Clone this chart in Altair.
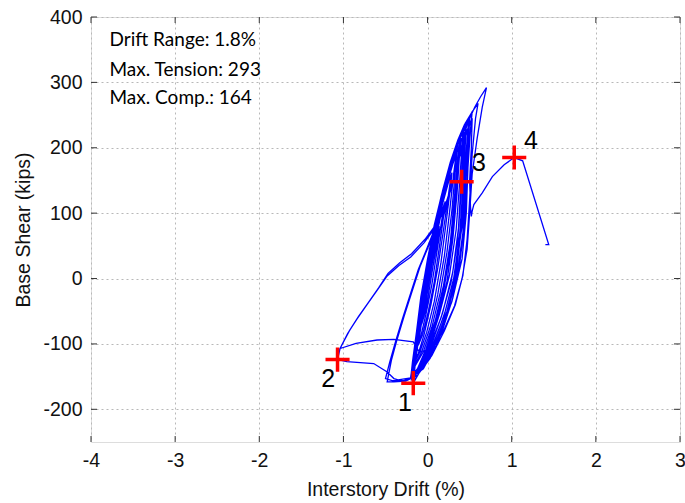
import altair as alt
import pandas as pd

# ---- hysteresis path, cycle by cycle (drift %, base shear kips)
CYCLE_1A = [(0, 0), (0.04, 30), (0.09, 60), (0.13, 78), (0.1, 55), (0.05, 20), (0.0, -20), (-0.04, -50), (-0.07, -68)]
CYCLE_1B = [(-0.04, -42), (0.0, -5), (0.05, 35), (0.1, 65), (0.14, 80), (0.11, 52), (0.06, 15), (0.01, -25),
            (-0.03, -52), (-0.07, -70)]
CYCLE_2A = [(-0.04, -40), (0.01, 0), (0.07, 45), (0.14, 90), (0.2, 115), (0.17, 90), (0.11, 40), (0.05, -10),
            (-0.02, -55), (-0.08, -88), (-0.11, -100)]
CYCLE_2B = [(-0.08, -75), (-0.03, -32), (0.03, 12), (0.09, 55), (0.16, 98), (0.21, 118), (0.19, 95), (0.14, 48),
            (0.08, -5), (0.01, -50), (-0.06, -86), (-0.11, -102)]
CYCLE_3A = [(-0.08, -70), (-0.03, -25), (0.03, 20), (0.1, 70), (0.18, 115), (0.25, 148), (0.28, 158), (0.25, 130),
            (0.19, 75), (0.12, 15), (0.04, -40), (-0.04, -85), (-0.11, -115), (-0.14, -122)]
CYCLE_3B = [(-0.11, -95), (-0.06, -48), (0.0, 0), (0.07, 50), (0.15, 100), (0.23, 142), (0.29, 162), (0.27, 138),
            (0.22, 85), (0.16, 25), (0.08, -35), (-0.01, -82), (-0.09, -112), (-0.14, -125)]
CYCLE_4A = [(-0.12, -100), (-0.07, -50), (-0.01, 0), (0.06, 50), (0.14, 100), (0.22, 145), (0.3, 180), (0.34, 190),
            (0.31, 160), (0.26, 100), (0.2, 35), (0.12, -25), (0.03, -75), (-0.07, -112), (-0.15, -132)]
CYCLE_4B = [(-0.13, -108), (-0.08, -58), (-0.02, -8), (0.05, 42), (0.13, 95), (0.21, 140), (0.29, 176), (0.35, 193),
            (0.33, 165), (0.29, 105), (0.23, 40), (0.15, -22), (0.05, -75), (-0.05, -112), (-0.15, -134)]
CYCLE_5A = [(-0.14, -115), (-0.09, -62), (-0.03, -10), (0.04, 42), (0.12, 95), (0.2, 140), (0.28, 178), (0.36, 205),
            (0.39, 212), (0.36, 185), (0.32, 125), (0.27, 55), (0.19, -10), (0.09, -65), (-0.02, -108),
            (-0.12, -138), (-0.18, -147)]
CYCLE_5B = [(-0.15, -118), (-0.1, -66), (-0.04, -14), (0.03, 38), (0.11, 90), (0.19, 136), (0.27, 175), (0.35, 203),
            (0.4, 215), (0.38, 190), (0.35, 130), (0.3, 60), (0.23, -5), (0.12, -62), (0.0, -108), (-0.11, -138),
            (-0.18, -149)]
CYCLE_6A = [(-0.16, -125), (-0.11, -72), (-0.05, -18), (0.02, 35), (0.1, 88), (0.19, 138), (0.28, 180), (0.36, 210),
            (0.42, 228), (0.41, 205), (0.38, 145), (0.34, 75), (0.26, 5), (0.14, -55), (0.03, -100), (-0.09, -135),
            (-0.19, -152)]
CYCLE_6B = [(-0.16, -128), (-0.12, -78), (-0.06, -25), (0.01, 28), (0.09, 82), (0.18, 133), (0.27, 177), (0.36, 210),
            (0.43, 230), (0.43, 208), (0.41, 150), (0.37, 80), (0.3, 10), (0.18, -52), (0.05, -100), (-0.08, -136),
            (-0.19, -154)]
CYCLE_7A = [(-0.17, -130), (-0.12, -78), (-0.06, -22), (0.01, 32), (0.09, 85), (0.18, 135), (0.27, 178), (0.36, 212),
            (0.44, 236), (0.49, 244), (0.47, 215), (0.44, 150), (0.41, 80), (0.33, 10), (0.21, -50), (0.08, -98),
            (-0.05, -133), (-0.17, -160)]
CYCLE_7B = [(-0.16, -135), (-0.11, -85), (-0.05, -30), (0.02, 25), (0.1, 80), (0.19, 130), (0.28, 175), (0.37, 210),
            (0.45, 234), (0.5, 243), (0.49, 218), (0.47, 155), (0.44, 85), (0.37, 15), (0.25, -45), (0.11, -95),
            (-0.03, -130), (-0.17, -158)]
CYCLE_8 = [(-0.15, -135), (-0.1, -85), (-0.04, -30), (0.03, 25), (0.11, 80), (0.2, 132), (0.29, 178), (0.38, 215),
           (0.46, 240), (0.53, 255), (0.51, 228), (0.48, 170), (0.46, 100), (0.41, 30), (0.3, -30), (0.17, -82),
           (0.03, -122), (-0.12, -148), (-0.28, -156), (-0.42, -156), (-0.5, -153)]
CYCLE_9 = [(-0.45, -128), (-0.38, -96), (-0.3, -62), (-0.2, -22), (-0.11, 14), (-0.02, 42), (0.06, 68), (0.15, 112),
           (0.25, 160), (0.35, 202), (0.44, 235), (0.53, 255), (0.6, 268), (0.57, 245), (0.53, 190), (0.5, 120),
           (0.47, 60), (0.42, 5), (0.33, -40), (0.2, -80), (0.05, -118), (-0.12, -148), (-0.26, -157), (-0.4, -158),
           (-0.48, -158)]
CYCLE_10 = [(-0.43, -125), (-0.36, -92), (-0.28, -58), (-0.18, -18), (-0.09, 18), (0.0, 46), (0.08, 72), (0.17, 118),
            (0.27, 168), (0.37, 208), (0.45, 238), (0.5, 246), (0.48, 215), (0.45, 145), (0.42, 70), (0.35, 5),
            (0.24, -50), (0.1, -102), (-0.05, -138), (-0.2, -152), (-0.35, -155), (-0.4, -153), (-0.48, -143),
            (-0.64, -130), (-0.96, -127), (-1.07, -124)]
CYCLE_11 = [(-1.04, -107), (-0.95, -84), (-0.84, -62), (-0.72, -40), (-0.6, -18), (-0.48, 4), (-0.34, 20),
            (-0.2, 33), (-0.04, 55), (0.08, 76), (0.19, 102), (0.27, 133), (0.35, 174), (0.47, 236), (0.56, 262),
            (0.63, 278), (0.7, 292), (0.65, 262), (0.59, 215), (0.53, 160), (0.5, 100), (0.47, 45), (0.41, 0),
            (0.32, -42), (0.19, -80), (0.04, -108), (-0.1, -112), (-0.17, -97), (-0.4, -93), (-0.6, -94),
            (-0.85, -99), (-1.04, -107)]
CYCLE_12 = [(-1.02, -102), (-0.93, -80), (-0.82, -58), (-0.7, -36), (-0.58, -14), (-0.47, 8), (-0.33, 24),
            (-0.19, 38), (-0.03, 60), (0.09, 81), (0.2, 108), (0.28, 140), (0.36, 180), (0.45, 222), (0.52, 240),
            (0.5, 210), (0.47, 150), (0.44, 85), (0.38, 20), (0.29, -35), (0.16, -80), (0.04, -110), (-0.1, -135),
            (-0.2, -150)]
CYCLE_13A = [(-0.16, -120), (-0.11, -70), (-0.05, -15), (0.03, 35), (0.12, 88), (0.21, 135), (0.3, 175), (0.38, 205),
             (0.43, 220), (0.42, 195), (0.39, 130), (0.36, 60), (0.28, -5), (0.16, -60), (0.02, -105), (-0.1, -138),
             (-0.2, -150)]
CYCLE_13B = [(-0.17, -125), (-0.12, -76), (-0.07, -22), (0.0, 30), (0.08, 82), (0.17, 130), (0.26, 172), (0.34, 200),
             (0.41, 222), (0.45, 230), (0.44, 205), (0.42, 140), (0.38, 65), (0.31, 0), (0.2, -55), (0.06, -102),
             (-0.08, -137), (-0.2, -152)]
CYCLE_14A = [(-0.18, -128), (-0.13, -80), (-0.08, -28), (-0.01, 22), (0.07, 75), (0.16, 125), (0.25, 168),
             (0.33, 198), (0.4, 218), (0.46, 236), (0.45, 210), (0.43, 150), (0.4, 75), (0.34, 8), (0.23, -50),
             (0.09, -100), (-0.05, -136), (-0.18, -152)]
CYCLE_14B = [(-0.16, -122), (-0.1, -68), (-0.03, -12), (0.05, 40), (0.13, 92), (0.22, 140), (0.31, 180),
             (0.37, 200), (0.36, 178), (0.33, 120), (0.28, 50), (0.2, -12), (0.1, -66), (-0.02, -112),
             (-0.13, -142), (-0.2, -151)]
FINAL_RUN = [(-0.15, -105), (-0.08, -50), (0.0, 5), (0.1, 50), (0.2, 100), (0.3, 150), (0.4, 195), (0.48, 230),
             (0.53, 245), (0.52, 200), (0.5, 150), (0.51, 110), (0.52, 95), (0.53, 103), (0.55, 113), (0.65, 131),
             (0.77, 156), (0.91, 174), (1.03, 185), (1.13, 180), (1.44, 52), (1.40, 52)]

CYCLES = [CYCLE_1A, CYCLE_1B, CYCLE_2A, CYCLE_2B, CYCLE_3A, CYCLE_3B, CYCLE_4A, CYCLE_4B, CYCLE_5A, CYCLE_5B,
          CYCLE_6A, CYCLE_6B, CYCLE_7A, CYCLE_7B, CYCLE_8, CYCLE_9, CYCLE_10, CYCLE_11, CYCLE_12,
          CYCLE_13A, CYCLE_13B, CYCLE_14A, CYCLE_14B, FINAL_RUN]

# ---- marked points and their labels
POINT_NAMES = ["1", "2", "3", "4"]
POINT_DRIFT = [-0.17, -1.07, 0.405, 1.03]
POINT_SHEAR = [-160, -124, 148, 185]
LABEL_DRIFT = [-0.27, -1.18, 0.61, 1.23]
LABEL_SHEAR = [-190, -153, 176, 211]

# ---- annotation block
NOTE_TEXT = ["Drift Range: 1.8%", "Max. Tension: 293", "Max. Comp.: 164"]
NOTE_DRIFT = [-3.78, -3.78, -3.78]
NOTE_SHEAR = [365, 319, 276]

X_TICKS = [-4, -3, -2, -1, 0, 1, 2, 3]
Y_TICKS = [-200, -100, 0, 100, 200, 300, 400]
X_DOMAIN = [-4, 3]
Y_DOMAIN = [-250, 400]

W, H = 589, 425
SANS = "Liberation Sans, Arial, Helvetica, sans-serif"

rows = []
k = 0
for cyc in CYCLES:
    for (x, y) in cyc:
        rows.append({"drift": x, "shear": y, "i": k})
        k += 1
path = pd.DataFrame(rows)
pts = pd.DataFrame({"drift": POINT_DRIFT, "shear": POINT_SHEAR})
labs = pd.DataFrame({"drift": LABEL_DRIFT, "shear": LABEL_SHEAR, "t": POINT_NAMES})
notes = pd.DataFrame({"drift": NOTE_DRIFT, "shear": NOTE_SHEAR, "t": NOTE_TEXT})
xt = pd.DataFrame({"v": X_TICKS})
yt = pd.DataFrame({"v": Y_TICKS})

xs = alt.Scale(domain=X_DOMAIN, nice=False, zero=False)
ys = alt.Scale(domain=Y_DOMAIN, nice=False, zero=False)

common = dict(ticks=False, domain=False, grid=True, gridDash=[2, 3], gridColor="#b8b8b8", gridWidth=1,
              labelFont=SANS, labelFontSize=19.5, labelColor="#111111", labelPadding=9,
              labelExpr="'' + datum.value", labelFlush=False,
              titleFont=SANS, titleFontSize=19.5, titleFontWeight="normal", titleColor="#111111")
xaxis = alt.Axis(values=X_TICKS, title="Interstory Drift (%)", titlePadding=11, **common)
yaxis = alt.Axis(values=Y_TICKS, title="Base Shear (kips)", titlePadding=9, **common)

base_line = alt.Chart(path).mark_line(color="#0000ff", strokeWidth=1.3, clip=True).encode(
    x=alt.X("drift:Q", scale=xs, axis=xaxis),
    y=alt.Y("shear:Q", scale=ys, axis=yaxis),
    order="i:Q",
)

tick_len = 6
xt_bot = alt.Chart(xt).mark_rule(color="#333333", strokeWidth=1).encode(
    x=alt.X("v:Q", scale=xs), y=alt.value(H), y2=alt.value(H - tick_len))
xt_top = alt.Chart(xt).mark_rule(color="#333333", strokeWidth=1).encode(
    x=alt.X("v:Q", scale=xs), y=alt.value(0), y2=alt.value(tick_len))
yt_left = alt.Chart(yt).mark_rule(color="#333333", strokeWidth=1).encode(
    y=alt.Y("v:Q", scale=ys), x=alt.value(0), x2=alt.value(tick_len))
yt_right = alt.Chart(yt).mark_rule(color="#333333", strokeWidth=1).encode(
    y=alt.Y("v:Q", scale=ys), x=alt.value(W), x2=alt.value(W - tick_len))

plus = alt.Chart(pts).mark_point(shape="M-1,0L1,0M0,-1L0,1", size=580, color="#ff0000",
                                 strokeWidth=3.5, filled=False, opacity=1).encode(
    x=alt.X("drift:Q", scale=xs), y=alt.Y("shear:Q", scale=ys))

num = alt.Chart(labs).mark_text(font=SANS, fontSize=25, color="#000000",
                                align="center", baseline="middle").encode(
    x=alt.X("drift:Q", scale=xs), y=alt.Y("shear:Q", scale=ys), text="t:N")

note = alt.Chart(notes).mark_text(font="Lato", fontSize=19, color="#000000",
                                  align="left", baseline="middle").encode(
    x=alt.X("drift:Q", scale=xs), y=alt.Y("shear:Q", scale=ys), text="t:N")

chart = alt.layer(base_line, xt_bot, xt_top, yt_left, yt_right, plus, num, note).properties(
    width=W, height=H,
    autosize=alt.AutoSizeParams(type="none"),
    padding={"left": 91, "top": 17, "right": 5, "bottom": 61},
).configure_view(stroke="#333333", strokeWidth=1).configure(background="white")

chart.save("out.html", embed_options={"renderer": "svg", "actions": False})
